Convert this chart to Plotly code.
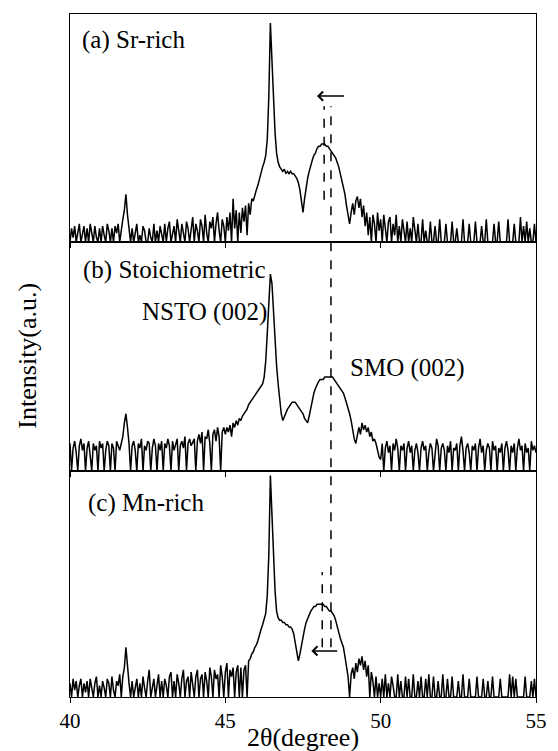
import numpy as np
import plotly.graph_objects as go

# 2theta grid (degrees), 0.05 step from 40 to 55
two_theta = np.round(40 + 0.05 * np.arange(301), 2)

# Intensities (a.u., percent of each panel height)
sr_rich = [
    0, 6, 2, 7, 0, 5, 8, 0, 3, 7, 0, 6, 0, 8, 4, 0, 7, 2, 0, 6,
    0, 7, 3, 0, 8, 5, 0, 6, 0, 7, 4, 8, 0, 6, 10, 14, 21, 12, 5, 0,
    6, 0, 4, 8, 0, 3, 0, 7, 5, 0, 0, 6, 2, 0, 8, 0, 5, 0, 7, 3,
    0, 8, 0, 6, 9, 0, 4, 7, 0, 10, 5, 0, 8, 3, 0, 9, 6, 0, 7, 11,
    0, 8, 5, 0, 10, 7, 0, 12, 4, 0, 9, 6, 11, 0, 8, 13, 5, 0, 10, 7,
    0, 11, 5, 13, 0, 19, 6, 14, 0, 13, 4, 15, 9, 16, 3, 17, 12, 19, 18, 21,
    23, 25, 28, 30, 33, 35, 38, 45, 64, 96, 78, 62, 48, 39, 35, 33, 32, 31, 32, 30,
    31, 30, 31, 30, 30, 29, 28, 26, 23, 18, 13, 19, 24, 28, 31, 34, 36, 38, 39, 41,
    42, 42, 43, 43, 43, 42, 42, 41, 40, 39, 38, 37, 35, 33, 30, 27, 24, 21, 16, 11,
    8, 13, 17, 12, 18, 20, 15, 19, 11, 16, 7, 13, 3, 11, 0, 12, 8, 0, 13, 5,
    10, 0, 12, 6, 0, 9, 11, 0, 8, 3, 12, 0, 7, 0, 10, 5, 0, 9, 0, 6,
    0, 11, 4, 0, 8, 0, 0, 10, 0, 5, 0, 0, 9, 0, 0, 7, 0, 0, 10, 0,
    0, 0, 8, 0, 0, 0, 9, 0, 0, 6, 0, 0, 0, 10, 0, 0, 0, 8, 0, 0,
    0, 9, 0, 0, 0, 7, 0, 0, 10, 0, 0, 0, 0, 8, 0, 0, 9, 0, 0, 0,
    0, 0, 10, 0, 0, 0, 8, 0, 0, 0, 11, 0, 7, 0, 9, 0, 6, 0, 0, 8,
    0,
]

stoichiometric = [
    12, 0, 10, 13, 8, 0, 11, 14, 9, 12, 0, 10, 13, 7, 0, 12, 9, 11, 0, 13,
    10, 12, 0, 9, 13, 11, 0, 12, 10, 0, 13, 11, 9, 12, 15, 21, 25, 19, 12, 0,
    11, 13, 9, 0, 12, 10, 14, 0, 11, 9, 13, 12, 0, 10, 14, 11, 0, 12, 9, 13,
    0, 12, 10, 14, 11, 0, 13, 9, 12, 14, 0, 11, 13, 10, 15, 0, 12, 14, 11, 13,
    14, 0, 13, 16, 12, 17, 0, 15, 14, 18, 12, 0, 16, 18, 13, 19, 15, 0, 17, 19,
    16, 19, 17, 20, 15, 21, 19, 22, 20, 23, 22, 24, 25, 26, 27, 29, 30, 31, 32, 33,
    34, 35, 36, 37, 38, 41, 48, 60, 76, 86, 82, 70, 56, 46, 38, 30, 25, 22, 24, 26,
    27, 28, 29, 30, 30, 30, 29, 28, 27, 26, 25, 23, 22, 21, 24, 28, 31, 34, 36, 38,
    39, 40, 40, 40, 41, 41, 41, 41, 41, 41, 40, 39, 38, 37, 36, 35, 34, 32, 30, 28,
    25, 22, 18, 14, 12, 15, 19, 16, 21, 18, 20, 17, 19, 15, 17, 13, 14, 12, 9, 6,
    5, 12, 0, 10, 13, 8, 11, 0, 12, 9, 14, 10, 0, 11, 9, 12, 0, 10, 13, 8,
    11, 0, 9, 12, 8, 0, 10, 13, 9, 11, 0, 8, 12, 10, 0, 9, 14, 11, 0, 10,
    12, 9, 0, 11, 8, 13, 0, 10, 9, 12, 0, 11, 15, 9, 0, 10, 12, 8, 0, 11,
    9, 12, 0, 10, 14, 8, 11, 0, 9, 12, 10, 0, 13, 9, 11, 0, 10, 8, 12, 0,
    10, 13, 9, 0, 11, 8, 12, 0, 10, 14, 9, 11, 0, 12, 8, 10, 0, 13, 9, 11,
    8,
]

mn_rich = [
    6, 0, 8, 3, 7, 0, 5, 8, 0, 6, 2, 7, 0, 8, 4, 0, 6, 9, 0, 5,
    0, 7, 4, 0, 8, 6, 0, 9, 3, 0, 7, 5, 10, 0, 9, 13, 22, 12, 6, 0,
    7, 0, 5, 8, 0, 6, 0, 9, 4, 0, 7, 12, 0, 5, 8, 0, 6, 10, 0, 7,
    0, 8, 5, 0, 9, 11, 0, 7, 0, 10, 6, 0, 8, 12, 0, 7, 9, 0, 11, 6,
    0, 9, 12, 0, 8, 10, 0, 11, 7, 0, 13, 9, 0, 12, 8, 10, 0, 14, 9, 0,
    11, 15, 0, 12, 9, 13, 0, 11, 14, 0, 13, 0, 12, 14, 0, 16, 17, 19, 20, 22,
    23, 25, 28, 30, 32, 34, 37, 45, 63, 98, 78, 62, 47, 38, 35, 34, 34, 33, 33, 32,
    32, 31, 31, 30, 28, 24, 19, 16, 19, 23, 27, 30, 33, 35, 37, 38, 39, 40, 40, 41,
    41, 41, 41, 41, 40, 40, 39, 38, 38, 37, 36, 34, 31, 29, 26, 24, 22, 18, 14, 9,
    0, 10, 13, 8, 15, 11, 17, 14, 18, 12, 16, 9, 14, 0, 11, 7, 0, 9, 0, 6,
    0, 8, 0, 10, 0, 6, 0, 9, 5, 0, 0, 10, 0, 7, 0, 0, 9, 0, 8, 0,
    0, 10, 0, 0, 7, 0, 9, 0, 0, 8, 0, 10, 0, 0, 9, 0, 0, 7, 0, 0,
    10, 0, 0, 8, 0, 0, 9, 0, 0, 0, 7, 0, 0, 10, 0, 0, 0, 8, 0, 0,
    0, 0, 9, 0, 0, 0, 8, 0, 0, 7, 0, 0, 9, 0, 0, 0, 0, 8, 0, 0,
    0, 0, 0, 10, 0, 9, 0, 8, 0, 0, 0, 0, 0, 9, 0, 0, 0, 7, 0, 8,
    0,
]

panel_labels = ["(a) Sr-rich", "(b) Stoichiometric", "(c) Mn-rich"]
x_ticks = [40, 45, 50, 55]
x_tick_labels = ["40", "45", "50", "55"]

SERIF = "Times New Roman"
TXT = dict(family=SERIF, size=25, color="black")

fig = go.Figure()
axis_ids = [("x", "y"), ("x2", "y2"), ("x3", "y3")]
for (xa, ya), series in zip(axis_ids, [sr_rich, stoichiometric, mn_rich]):
    fig.add_trace(go.Scatter(x=two_theta, y=series, mode="lines", xaxis=xa, yaxis=ya,
                             line=dict(color="black", width=1.5),
                             showlegend=False, hoverinfo="skip"))

domains = [[0.666, 1.0], [0.331, 0.666], [0.0, 0.331]]
layout_axes = {}
for i, (xa, ya) in enumerate(axis_ids):
    sfx = "" if i == 0 else str(i + 1)
    layout_axes["yaxis" + sfx] = dict(domain=domains[i], anchor=xa, range=[0, 100],
                                      showticklabels=False, ticks="", showgrid=False,
                                      zeroline=False, showline=True, mirror=True,
                                      linecolor="black", linewidth=1.2, fixedrange=True)
    layout_axes["xaxis" + sfx] = dict(domain=[0, 1], anchor=ya, range=[40, 55],
                                      tickvals=x_ticks, ticktext=x_tick_labels,
                                      ticks="outside", ticklen=5, tickwidth=1.2,
                                      tickcolor="black", showgrid=False, zeroline=False,
                                      showline=True, mirror=True, linecolor="black",
                                      linewidth=1.2, showticklabels=(i == 2),
                                      tickfont=dict(family=SERIF, size=21, color="black"))
    if i > 0:
        layout_axes["xaxis" + sfx]["matches"] = "x"

ann = []
label_pos = [("x", "y", 40.31, 88.6), ("x2", "y2", 40.35, 87.8), ("x3", "y3", 40.5, 85.8)]
for (xr, yr, xv, yv), txt in zip(label_pos, panel_labels):
    ann.append(dict(xref=xr, yref=yr, x=xv, y=yv, text=txt, showarrow=False,
                    xanchor="left", yanchor="middle", font=TXT))
ann.append(dict(xref="x2", yref="y2", x=42.26, y=69.4, text="NSTO (002)", showarrow=False,
                xanchor="left", yanchor="middle", font=TXT))
ann.append(dict(xref="x2", yref="y2", x=48.96, y=45, text="SMO (002)", showarrow=False,
                xanchor="left", yanchor="middle", font=TXT))
# shift arrows
ann.append(dict(xref="x", yref="y", x=47.95, y=64, axref="x", ayref="y", ax=48.87, ay=64,
                text="", showarrow=True, arrowhead=4, arrowsize=1.2, arrowwidth=1.5,
                arrowcolor="black", standoff=0))
ann.append(dict(xref="x3", yref="y3", x=47.77, y=20.4, axref="x3", ayref="y3", ax=48.65, ay=20.4,
                text="", showarrow=True, arrowhead=4, arrowsize=1.2, arrowwidth=1.5,
                arrowcolor="black", standoff=0))
# axis titles
ann.append(dict(xref="paper", yref="paper", x=0.5, y=-0.06, text="2θ(degree)", showarrow=False,
                xanchor="center", yanchor="middle", font=dict(family=SERIF, size=26, color="black")))
ann.append(dict(xref="paper", yref="paper", x=-0.092, y=0.5, text="Intensity(a.u.)", showarrow=False,
                textangle=-90, xanchor="center", yanchor="middle",
                font=dict(family=SERIF, size=26, color="black")))

shapes = [
    dict(type="line", xref="x", yref="paper", x0=48.4, x1=48.4, y0=0.073, y1=0.865,
         line=dict(color="black", width=1.5, dash="dash")),
    dict(type="line", xref="x", yref="paper", x0=48.18, x1=48.18, y0=0.728, y1=0.865,
         line=dict(color="black", width=1.5, dash="dash")),
    dict(type="line", xref="x", yref="paper", x0=48.12, x1=48.12, y0=0.073, y1=0.183,
         line=dict(color="black", width=1.5, dash="dash")),
]

fig.update_layout(width=558, height=751, margin=dict(l=70, r=11, t=14, b=54),
                  plot_bgcolor="white", paper_bgcolor="white",
                  annotations=ann, shapes=shapes, **layout_axes)

fig.write_html("out.html")
